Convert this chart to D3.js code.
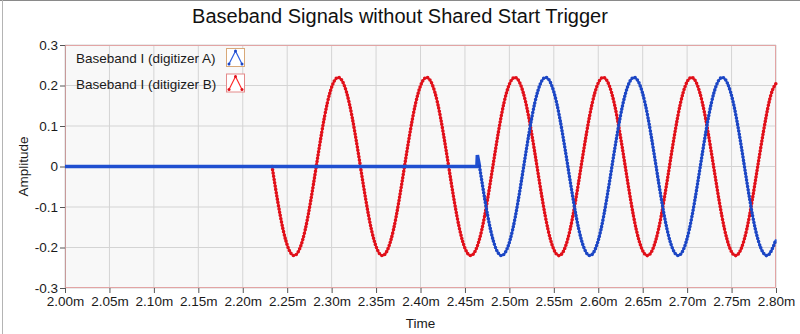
<!DOCTYPE html>
<html>
<head>
<meta charset="utf-8"/>
<title>Baseband Signals without Shared Start Trigger</title>
<script src="https://d3js.org/d3.v7.min.js"></script>
<style>
  body { margin: 0; background: #fff; }
  svg { display: block; font-family: "Liberation Sans", Arial, sans-serif; }
  .axis path { display: none; }
  .axis line { stroke: #555; }
  .axis text { font-size: 13.5px; fill: #1a1a1a; font-family: "Liberation Sans", Arial, sans-serif; }
  .grid line { stroke: #d4d4d4; }
</style>
</head>
<body>
<div id="chart"></div>
<script>
// tick values / labels
var xTickValues = [2.00, 2.05, 2.10, 2.15, 2.20, 2.25, 2.30, 2.35, 2.40, 2.45, 2.50, 2.55, 2.60, 2.65, 2.70, 2.75, 2.80];
var yTickValues = [-0.3, -0.2, -0.1, 0, 0.1, 0.2, 0.3];
var seriesNames = ["Baseband I (digitizer A)", "Baseband I (ditigizer B)"];

// digitizer A: idle at zero until its trigger, then the tone
var blueFlatTime = [2.000, 2.4635, 2.4640, 2.4664];
var blueFlatAmp  = [0, 0, 0.028, 0];
var blueTime = [2.4664, 2.4788, 2.4912, 2.5037, 2.5161, 2.5285, 2.5409, 2.5533,
                2.5658, 2.5782, 2.5906, 2.6030, 2.6154, 2.6279, 2.6403, 2.6527,
                2.6651, 2.6775, 2.6900, 2.7024, 2.7148, 2.7272, 2.7396, 2.7521,
                2.7645, 2.7769, 2.7893, 2.8000];
var blueAmp  = [0, -0.156, -0.22, -0.156, 0, 0.156, 0.22, 0.156,
                0, -0.156, -0.22, -0.156, 0, 0.156, 0.22, 0.156,
                0, -0.156, -0.22, -0.156, 0, 0.156, 0.22, 0.156,
                0, -0.156, -0.22, -0.18];

// digitizer B: starts earlier
var redTime = [2.2330, 2.2454, 2.2578, 2.2703, 2.2827, 2.2951, 2.3075, 2.3199,
               2.3324, 2.3448, 2.3572, 2.3696, 2.3820, 2.3945, 2.4069, 2.4193,
               2.4317, 2.4441, 2.4565, 2.4690, 2.4814, 2.4938, 2.5062, 2.5186,
               2.5311, 2.5435, 2.5559, 2.5683, 2.5807, 2.5932, 2.6056, 2.6180,
               2.6304, 2.6428, 2.6553, 2.6677, 2.6801, 2.6925, 2.7049, 2.7173,
               2.7298, 2.7422, 2.7546, 2.7670, 2.7794, 2.7919, 2.8000];
var redAmp  = [0, -0.156, -0.22, -0.156, 0, 0.156, 0.22, 0.156,
               0, -0.156, -0.22, -0.156, 0, 0.156, 0.22, 0.156,
               0, -0.156, -0.22, -0.156, 0, 0.156, 0.22, 0.156,
               0, -0.156, -0.22, -0.156, 0, 0.156, 0.22, 0.156,
               0, -0.156, -0.22, -0.156, 0, 0.156, 0.22, 0.156,
               0, -0.156, -0.22, -0.156, 0, 0.156, 0.205];

var width = 800, height = 334;
var plotL = 65, plotR = 776, plotT = 45, plotB = 288;

var svg = d3.select("#chart").append("svg")
    .attr("width", width)
    .attr("height", height);

// panel edges
svg.append("line").attr("x1", 0).attr("x2", width).attr("y1", 0.5).attr("y2", 0.5).attr("stroke", "#8a8a8a");
svg.append("line").attr("x1", 2.5).attr("x2", 2.5).attr("y1", 0).attr("y2", height).attr("stroke", "#b4b4b4");

var x = d3.scaleLinear().domain([2.0, 2.8]).range([plotL, plotR]);
var y = d3.scaleLinear().domain([-0.3, 0.3]).range([plotB, plotT]);

svg.append("rect")
    .attr("x", plotL).attr("y", plotT)
    .attr("width", plotR - plotL).attr("height", plotB - plotT)
    .attr("fill", "#f8f8f8");

// grid
svg.append("g").attr("class", "grid")
    .selectAll("line").data(xTickValues).enter().append("line")
    .attr("x1", function(d){ return x(d); }).attr("x2", function(d){ return x(d); })
    .attr("y1", plotT).attr("y2", plotB);
svg.append("g").attr("class", "grid")
    .selectAll("line").data(yTickValues).enter().append("line")
    .attr("x1", plotL).attr("x2", plotR)
    .attr("y1", function(d){ return y(d); }).attr("y2", function(d){ return y(d); });

// axes
svg.append("g").attr("class", "axis")
    .attr("transform", "translate(0," + plotB + ")")
    .call(d3.axisBottom(x).tickValues(xTickValues).tickSize(5).tickPadding(3)
        .tickFormat(function(d){ return d.toFixed(2) + "m"; }));
svg.append("g").attr("class", "axis")
    .attr("transform", "translate(" + plotL + ",0)")
    .call(d3.axisLeft(y).tickValues(yTickValues).tickSize(5).tickPadding(2)
        .tickFormat(function(d){ return d === 0 ? "0" : d.toFixed(1); }));

// plot border
svg.append("rect")
    .attr("x", plotL + 0.5).attr("y", plotT + 0.5)
    .attr("width", plotR - plotL - 1).attr("height", plotB - plotT - 1)
    .attr("fill", "none").attr("stroke", "#e2a4a4");
svg.append("line").attr("x1", plotL + 0.5).attr("x2", plotL + 0.5)
    .attr("y1", plotT).attr("y2", plotB).attr("stroke", "#c79a9a");

// signals
var smooth = d3.line().curve(d3.curveNatural)
    .x(function(d){ return x(d[0]); }).y(function(d){ return y(d[1]); });
var straight = d3.line()
    .x(function(d){ return x(d[0]); }).y(function(d){ return y(d[1]); });

function beaded(pts, gen, lineCol, dotCol, w) {
    var g = svg.append("g");
    g.append("path").attr("d", gen(pts)).attr("fill", "none")
        .attr("stroke", lineCol).attr("stroke-width", w);
    g.append("path").attr("d", gen(pts)).attr("fill", "none")
        .attr("stroke", dotCol).attr("stroke-width", 3.6)
        .attr("stroke-linecap", "round").attr("stroke-dasharray", "0 3.3");
}

var redPts = d3.zip(redTime, redAmp);
var bluePts = d3.zip(blueTime, blueAmp);
var flatPts = d3.zip(blueFlatTime, blueFlatAmp);

beaded(redPts, smooth, "#ff2a2a", "#e0101a", 2);
svg.append("path").attr("d", straight(flatPts)).attr("fill", "none")
    .attr("stroke", "#1f4fd0").attr("stroke-width", 3.6);
beaded(bluePts, smooth, "#2f5fe0", "#1c46c4", 2);

// legend
var legendCols = [["#2f5fe0", "#1c46c4", "#d8a878"], ["#ff2a2a", "#e0101a", "#e48a8a"]];
var legend = svg.append("g");
seriesNames.forEach(function(name, i) {
    var cy = 58 + i * 25.5;
    legend.append("text")
        .attr("x", 76).attr("y", cy + 5)
        .attr("font-size", "13.5px").attr("fill", "#1a1a1a")
        .text(name);
    legend.append("rect")
        .attr("x", 226.5).attr("y", cy - 9.5).attr("width", 18).attr("height", 18)
        .attr("fill", "#fff").attr("stroke", legendCols[i][2]);
    var icon = [[229, cy + 6], [235.5, cy - 7], [242, cy + 6]];
    legend.append("polyline")
        .attr("points", icon.map(function(p){ return p.join(","); }).join(" "))
        .attr("fill", "none").attr("stroke", legendCols[i][0]).attr("stroke-width", 1.2);
    legend.selectAll(null).data(icon).enter().append("circle")
        .attr("cx", function(p){ return p[0]; }).attr("cy", function(p){ return p[1]; })
        .attr("r", 1.5).attr("fill", legendCols[i][1]);
});

// titles
svg.append("text")
    .attr("x", 400).attr("y", 23)
    .attr("text-anchor", "middle")
    .attr("font-size", "20px").attr("fill", "#111")
    .text("Baseband Signals without Shared Start Trigger");
svg.append("text")
    .attr("x", (plotL + plotR) / 2).attr("y", 328)
    .attr("text-anchor", "middle")
    .attr("font-size", "13.5px").attr("fill", "#1a1a1a")
    .text("Time");
svg.append("text")
    .attr("transform", "translate(28," + ((plotT + plotB) / 2) + ") rotate(-90)")
    .attr("text-anchor", "middle")
    .attr("font-size", "13.5px").attr("fill", "#1a1a1a")
    .text("Amplitude");
</script>
</body>
</html>
